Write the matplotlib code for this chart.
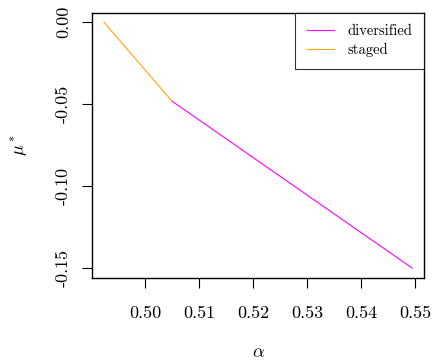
import matplotlib
matplotlib.use("Agg")
import matplotlib.pyplot as plt

plt.rcParams['font.family'] = ['cmr10', 'DejaVu Serif']
plt.rcParams['mathtext.fontset'] = 'cm'
plt.rcParams['axes.unicode_minus'] = False

staged_alpha = [0.4924, 0.5050]
staged_mu = [0.0, -0.0482]
div_alpha = [0.5050, 0.5494]
div_mu = [-0.0482, -0.150]

xticks = [0.50, 0.51, 0.52, 0.53, 0.54, 0.55]
xticklabels = ["0.50", "0.51", "0.52", "0.53", "0.54", "0.55"]
yticks = [0.00, -0.05, -0.10, -0.15]
yticklabels = ["0.00", "-0.05", "-0.10", "-0.15"]

fig = plt.figure(figsize=(4.33, 3.64), dpi=100)
ax = fig.add_axes([0.2125, 0.236, 0.767, 0.728])

ax.plot(div_alpha, div_mu, color='#FF00FF', lw=0.8, label='diversified')
ax.plot(staged_alpha, staged_mu, color='#FFA500', lw=0.8, label='staged')

ax.set_xlim(0.4902, 0.5516)
ax.set_ylim(-0.1561, 0.0055)
ax.set_xticks(xticks)
ax.set_xticklabels(xticklabels)
ax.set_yticks(yticks)
ax.set_yticklabels(yticklabels, rotation=90, va='center')
ax.tick_params(axis='both', direction='out', length=7, width=0.8, labelsize=13)
ax.tick_params(axis='x', pad=13)
ax.tick_params(axis='y', pad=8)
for s in ax.spines.values():
    s.set_linewidth(1.0)

ax.set_xlabel(r'$\alpha$', fontsize=13, labelpad=17)
ax.set_ylabel(r'$\mu^*$', fontsize=13, labelpad=18)

leg = ax.legend(loc='upper right', borderaxespad=0, fancybox=False, fontsize=10.5,
                handlelength=1.9, handletextpad=0.9, borderpad=0.8, labelspacing=0.3)
leg.get_frame().set_edgecolor('black')
leg.get_frame().set_linewidth(0.8)

fig.savefig('out.png', dpi=100)
